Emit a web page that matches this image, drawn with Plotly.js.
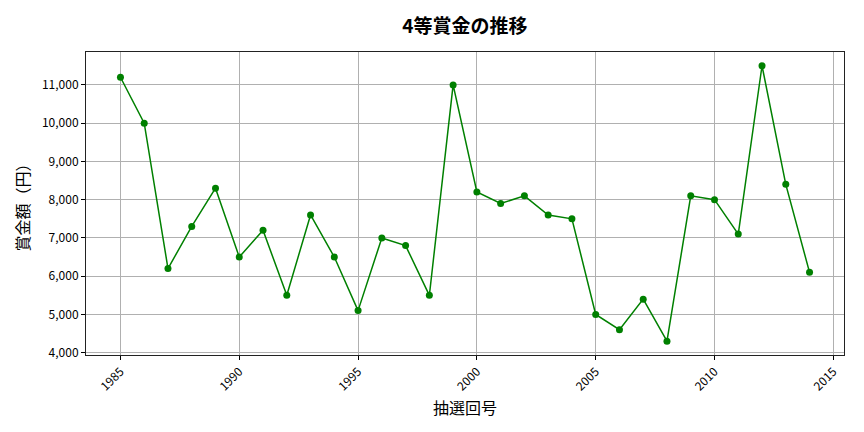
<!DOCTYPE html>
<html>
<head>
<meta charset="utf-8">
<script src="https://cdn.plot.ly/plotly-3.0.1.min.js"></script>
<style>
  html, body { margin: 0; padding: 0; background: #fff; }
  #chart { width: 864px; height: 432px; }
</style>
</head>
<body>
<div id="chart"></div>
<script>
// 4等賞金 per year
var years = [1985, 1986, 1987, 1988, 1989, 1990, 1991, 1992, 1993, 1994,
             1995, 1996, 1997, 1998, 1999, 2000, 2001, 2002, 2003, 2004,
             2005, 2006, 2007, 2008, 2009, 2010, 2011, 2012, 2013, 2014];
var prizes = [11200, 10000, 6200, 7300, 8300, 6500, 7200, 5500, 7600, 6500,
              5100, 7000, 6800, 5500, 11000, 8200, 7900, 8100, 7600, 7500,
              5000, 4600, 5400, 4300, 8100, 8000, 7100, 11500, 8400, 6100];
var xTicks = [1985, 1990, 1995, 2000, 2005, 2010, 2015];
var yTicks = [4000, 5000, 6000, 7000, 8000, 9000, 10000, 11000];

var font = '"Noto Sans CJK JP", "Noto Sans", sans-serif';

var trace = {
  x: years,
  y: prizes,
  mode: 'lines+markers',
  type: 'scatter',
  line: { color: 'green', width: 1.5 },
  marker: { color: 'green', size: 7 },
  hoverinfo: 'none'
};

var layout = {
  width: 864,
  height: 432,
  margin: { l: 86, r: 20, t: 52, b: 77 },
  paper_bgcolor: '#fff',
  plot_bgcolor: '#fff',
  showlegend: false,
  font: { family: font, color: '#000', size: 12 },
  title: {
    text: '<b>4等賞金の推移</b>',
    font: { family: font, size: 19, color: '#000' },
    x: 0.538, xanchor: 'center',
    y: 0.94, yanchor: 'middle'
  },
  xaxis: {
    range: [1983.55, 2015.45],
    tickvals: xTicks,
    ticktext: xTicks.map(String),
    tickangle: -45,
    ticks: 'outside', ticklen: 4, tickcolor: '#000',
    showline: true, linecolor: '#222', linewidth: 1, mirror: true,
    showgrid: true, gridcolor: '#b0b0b0', gridwidth: 1,
    zeroline: false,
    tickfont: { family: font, size: 12 },
    title: { text: '抽選回号', font: { family: font, size: 16 }, standoff: 10 }
  },
  yaxis: {
    range: [3940, 11860],
    tickvals: yTicks,
    ticktext: yTicks.map(function (v) { return v.toLocaleString('en-US'); }),
    ticks: 'outside', ticklen: 4, tickcolor: '#000',
    showline: true, linecolor: '#222', linewidth: 1, mirror: true,
    showgrid: true, gridcolor: '#b0b0b0', gridwidth: 1,
    zeroline: false,
    tickfont: { family: font, size: 12 },
    title: { text: '賞金額（円）', font: { family: font, size: 16 }, standoff: 8 }
  }
};

Plotly.newPlot('chart', [trace], layout, { displayModeBar: false, staticPlot: true });
</script>
</body>
</html>
